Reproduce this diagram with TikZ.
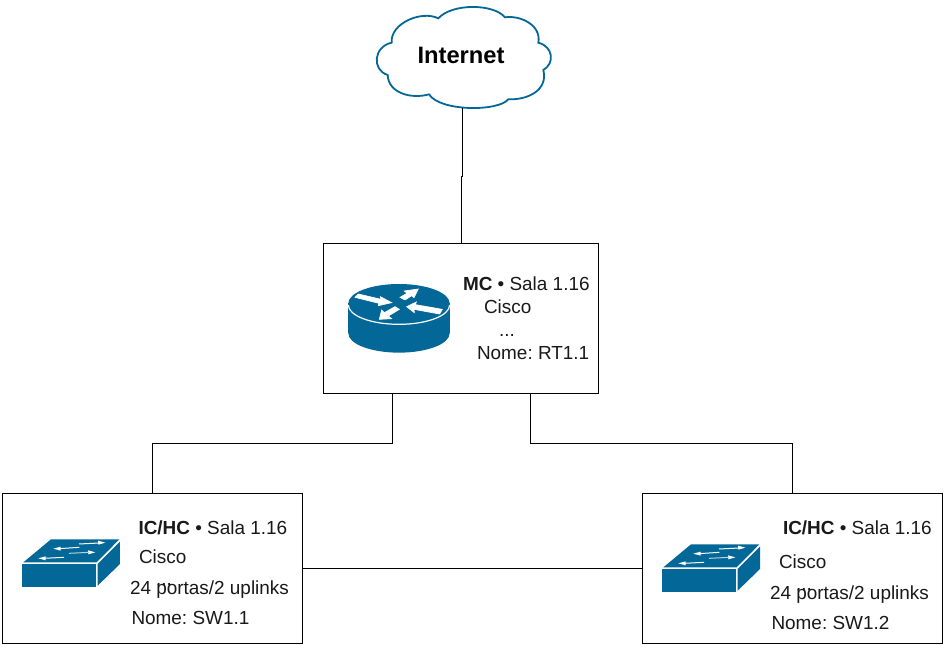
\documentclass[tikz,border=0pt]{standalone}
\usepackage{fontspec}
\setmainfont{Liberation Sans}
\definecolor{cisco}{HTML}{036897}
\tikzset{
  netbox/.style={draw=black,line width=0.75pt,fill=white,inner sep=0pt,outer sep=0pt},
  label/.style={anchor=base west,inner sep=0pt,outer sep=0pt,font=\fontsize{14.2}{16}\selectfont\frenchspacing,text=black!90},
  wire/.style={draw=black,line width=0.75pt},
  bigarrow/.style={fill=white,draw=white,line width=0.5pt,line join=miter},
  thinarrow/.style={draw=white,line width=0.75pt},
  switchicon/.pic={
    \begin{scope}[scale=0.3333]
      \fill[cisco] (65,222) rectangle (288,292);
      \fill[cisco] (70,217) -- (153,148) -- (358,148) -- (290,217) -- cycle;
      \fill[cisco] (293,222) -- (360,155) -- (360,222) -- (293,287) -- cycle;
      \fill[white] (316,158) -- (294,152) -- (295,164) -- cycle;
      \draw[thinarrow] (237,162) -- (298,159);
      \fill[white] (160,176) -- (182,170) -- (182,182) -- cycle;
      \draw[thinarrow] (238,172) -- (177,176);
      \fill[white] (286,187) -- (264,181) -- (265,193) -- cycle;
      \draw[thinarrow,white!70!cisco] (207,190) -- (268,187);
      \fill[white] (115,205) -- (137,199) -- (137,211) -- cycle;
      \draw[thinarrow] (192,202) -- (132,205);
    \end{scope}
  }
}
\begin{document}
\begin{tikzpicture}[x=0.75pt,y=-0.75pt]
\useasboundingbox (0,0) rectangle (948,645);
\fill[white] (0,0) rectangle (948,645);

% cloud
\begin{scope}[shift={(365,0)},scale=0.3333]
  \draw[cisco,line width=1.35pt,fill=white]
    (220,55) .. controls (260,10) and (385,10) .. (420,52)
    .. controls (465,45) and (530,75) .. (520,128)
    .. controls (565,140) and (570,190) .. (535,210)
    .. controls (550,270) and (490,300) .. (430,298)
    .. controls (400,335) and (225,335) .. (192,283)
    .. controls (140,298) and (70,280) .. (68,225)
    .. controls (20,210) and (25,140) .. (80,128)
    .. controls (75,70) and (170,30) .. (220,55) -- cycle;
\end{scope}
\node[inner sep=0pt,outer sep=0pt,anchor=base west,font=\bfseries\fontsize{17.8}{20}\selectfont] (inet) at (417.5,64) {Internet};
\coordinate (cloudout) at (462,108);
\coordinate (cloudbend) at (462,177);

% boxes
\node[netbox,minimum width=275*0.75pt,minimum height=150*0.75pt,anchor=north west] (mc) at (323.5,243.5) {};
\node[netbox,minimum width=299.5*0.75pt,minimum height=150*0.75pt,anchor=north west] (sw1) at (2.5,493) {};
\node[netbox,minimum width=300*0.75pt,minimum height=150*0.75pt,anchor=north west] (sw2) at (642,493) {};

% connectors
\coordinate (topdrop) at (461,243.5);
\coordinate (lbend) at (392.5,443);
\coordinate (lfoot) at (152.5,493);
\coordinate (rbend) at (530.5,443);
\coordinate (rfoot) at (792.5,493);
\coordinate (midy) at (302,568);
\draw[wire] (cloudout) -- (cloudbend) -- (cloudbend -| topdrop) -- (topdrop);
\draw[wire] (mc.south -| lbend) -- (lbend) -- (lbend -| lfoot) -- (sw1.north -| lfoot);
\draw[wire] (mc.south -| rbend) -- (rbend) -- (rbend -| rfoot) -- (sw2.north -| rfoot);
\draw[wire] (sw1.east |- midy) -- (sw2.west |- midy);

% router icon
\begin{scope}[shift={(320,240)},scale=0.3333]
  \fill[cisco] (237,280) ellipse [x radius=152,y radius=58];
  \fill[cisco] (85,190) rectangle (389,280);
  \fill[cisco] (237,190) ellipse [x radius=152,y radius=58];
  \draw[white,line width=0.9pt] (85,195) arc [start angle=180,end angle=0,x radius=152,y radius=58];
\end{scope}
\begin{scope}[shift={(345,280)},scale=0.3333]
  \fill[bigarrow] (30,52) -- (40,42) -- (108,58) -- (106,50) -- (140,68) -- (100,77) -- (102,70) -- cycle;
  \fill[bigarrow] (220,27) -- (178,33) -- (186,40) -- (165,52) -- (180,60) -- (200,47) -- (207,53) -- cycle;
  \fill[bigarrow] (185,80) -- (214,66) -- (211,74) -- (292,88) -- (284,102) -- (207,88) -- (208,98) -- cycle;
  \fill[bigarrow] (103,118) -- (110,90) -- (118,98) -- (150,80) -- (163,88) -- (130,108) -- (140,116) -- cycle;
\end{scope}

% switch icons
\pic at (0,490) {switchicon};
\pic at (640,495) {switchicon};

% MC text
\node[label] (mcA) at (463,290) {\textbf{MC} • Sala 1.16};
\node[label] (mcB) at (484,313.5) {Cisco};
\node[label] (mcC) at (499,336) {...};
\node[label] (mcD) at (477,359.5) {Nome: RT1.1};

% SW1 text
\node[label] (aA) at (138.5,534.5) {\textbf{IC/HC} • Sala 1.16};
\node[label] (aB) at (139,563.5) {Cisco};
\node[label] (aD) at (156,585) {...};
\node[label] (aC) at (130,594.5) {24 portas/2 uplinks};
\node[label] (aE) at (131.5,624.5) {Nome: SW1.1};

% SW2 text
\node[label] (bA) at (783,534.5) {\textbf{IC/HC} • Sala 1.16};
\node[label] (bB) at (779,568.5) {Cisco};
\node[label] (bD) at (796,590) {...};
\node[label] (bC) at (770,599.5) {24 portas/2 uplinks};
\node[label] (bE) at (771.5,629.5) {Nome: SW1.2};
\end{tikzpicture}
\end{document}
